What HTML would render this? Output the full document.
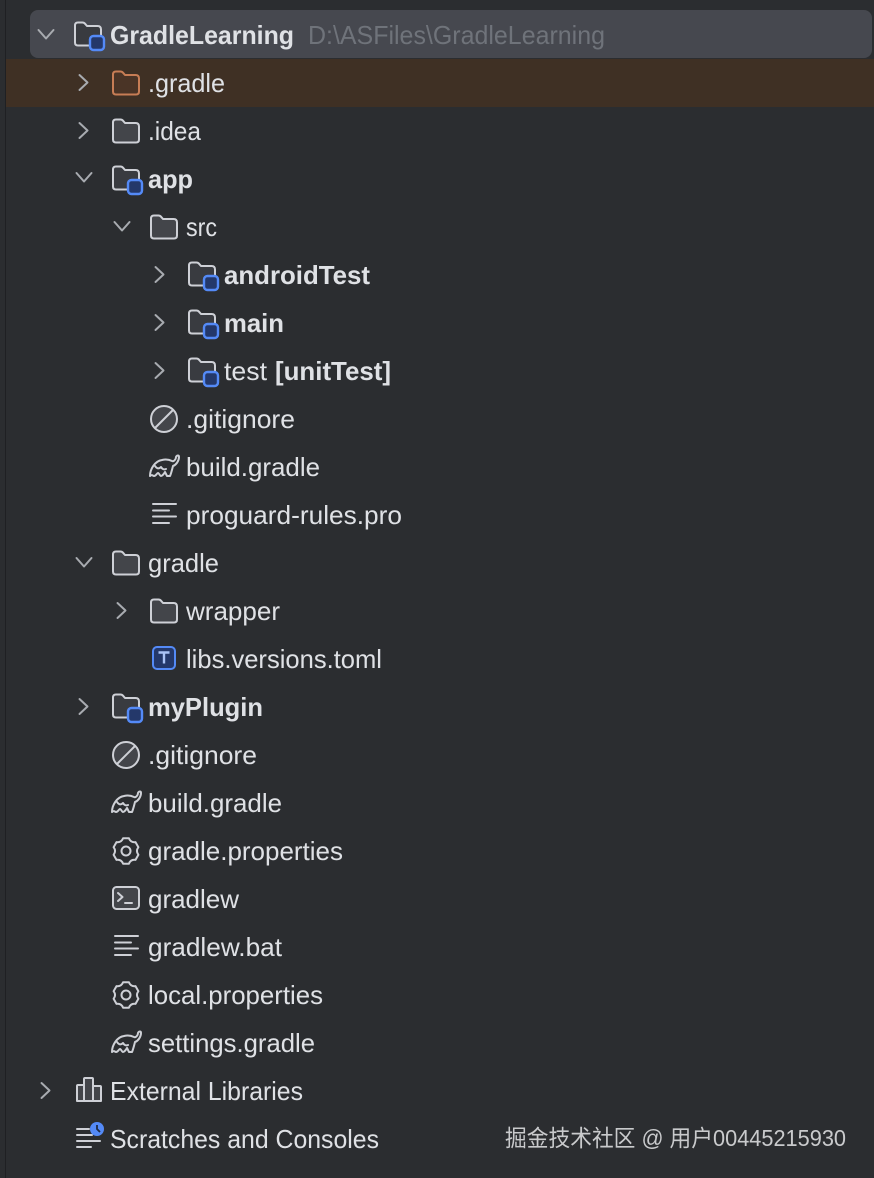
<!DOCTYPE html>
<html><head><meta charset="utf-8"><style>
html,body{margin:0;padding:0;background:#2b2d30}
svg{display:block}
text{font-family:"Liberation Sans","Noto Sans CJK SC",sans-serif;font-size:26px;fill:#dfe1e5}
.b{font-weight:bold}
.g{fill:#6f737a}
.w{font-size:23px;fill:#c9cacc}
.s{fill:none;stroke:#ced0d6;stroke-width:2;stroke-linecap:round;stroke-linejoin:round}
.c{fill:none;stroke:#a8abb0;stroke-width:2;stroke-linecap:round;stroke-linejoin:round}
</style></head><body>
<svg xmlns="http://www.w3.org/2000/svg" width="874" height="1178" viewBox="0 0 874 1178">
<defs>
<g id="r"><path class="c" d="M-4.500 -7.500L3.500 0L-4.500 7.500"/></g>
<g id="d"><path class="c" d="M-7.500 -4L0 4.500L7.500 -4"/></g>
<path id="fp" d="M-13 -8.500q0-3 3-3h4.500q1.500 0 2.500 1.200l2 2.300h10.500q3.500 0 3.500 3.500v13q0 3-3 3h-20q-3 0-3-3z"/>
<g id="f"><use href="#fp" fill="#43454a" stroke="#ced0d6" stroke-width="2" stroke-linejoin="round"/></g>
<g id="fm"><use href="#fp" fill="#393b40" stroke="#ced0d6" stroke-width="2" stroke-linejoin="round"/><rect x="2" y="2" width="14" height="14" rx="3.500" fill="#24386a" stroke="#548af7" stroke-width="2.400"/></g>
<g id="no"><circle r="13" fill="#43454a" stroke="#ced0d6" stroke-width="2"/><path class="s" d="M-8.500 8.500L8.500 -8.500"/></g>
<g id="el"><path class="s" d="M-14 10C-14 3-9-5-2-6C2-7 6-6 8-5C10-4 12-7 12-9C13-11 15-11 15-9C15-5 12-1 9 0C8 4 7 8 6 10L3 10L1 6C0 8-2 10-3 10C-4 10-5 7-6 7C-7 7-8 10-10 10C-11 10-12 8-14 10Z"/><path class="s" d="M-9 0C-7 3-5 3-3 1C-2 3 0 4 2 3"/></g>
<g id="ln"><path class="s" d="M-11 -10H12M-11 -3.500H5M-11 2.500H12M-11 9H5"/></g>
<g id="gr"><path class="s" d="M-2.900 -12.700L2.900 -12.700Q4.750 -8.200 9.500 -8.900L12.400 -3.800Q9.500 0 12.400 3.800L9.500 8.900Q4.750 8.200 2.900 12.700L-2.900 12.700Q-4.750 8.200 -9.500 8.900L-12.400 3.800Q-9.500 0 -12.400 -3.800L-9.500 -8.900Q-4.750 -8.200 -2.900 -12.700Z"/><circle r="4.500" class="s"/></g>
</defs>

<rect width="874" height="1178" fill="#2b2d30"/>
<rect x="5" y="0" width="1" height="1178" fill="#1f2023"/>
<rect x="30" y="10" width="842" height="48" rx="8" fill="#46484f"/>
<rect x="6" y="59" width="868" height="48" fill="#3f3024"/>

<!-- chevrons -->
<use href="#d" x="46" y="34"/>
<use href="#r" x="84" y="82.500"/>
<use href="#r" x="84" y="130.500"/>
<use href="#d" x="84" y="177"/>
<use href="#d" x="122" y="226"/>
<use href="#r" x="160" y="274.500"/>
<use href="#r" x="160" y="322.500"/>
<use href="#r" x="160" y="370.500"/>
<use href="#d" x="84" y="562"/>
<use href="#r" x="122" y="610.500"/>
<use href="#r" x="84" y="706.500"/>
<use href="#r" x="46" y="1090.500"/>

<!-- folder icons -->
<use href="#fm" x="88" y="34"/>
<g transform="translate(126,83)"><use href="#fp" fill="#4a3426" stroke="#c77d55" stroke-width="2" stroke-linejoin="round"/></g>
<use href="#f" x="126" y="131"/>
<use href="#fm" x="126" y="178"/>
<use href="#f" x="164" y="227"/>
<use href="#fm" x="202" y="274"/>
<use href="#fm" x="202" y="322"/>
<use href="#fm" x="202" y="370"/>
<use href="#no" x="164" y="419"/>
<use href="#el" x="164" y="466"/>
<use href="#ln" x="164" y="514"/>
<use href="#f" x="126" y="563"/>
<use href="#f" x="164" y="611"/>
<rect x="153" y="647" width="22" height="22" rx="4" fill="#24386a" stroke="#548af7" stroke-width="2"/>
<path d="M158.500 652.500h11M164 652.500v11" fill="none" stroke="#a9c2f5" stroke-width="2.400"/>
<use href="#fm" x="126" y="706"/>
<use href="#no" x="126" y="755"/>
<use href="#el" x="126" y="802"/>
<use href="#gr" x="126" y="851"/>
<rect x="113" y="887" width="26" height="22" rx="3.500" fill="#43454a" stroke="#ced0d6" stroke-width="2"/>
<path class="s" d="M118 893l4.500 4l-4.500 4M125 903h7"/>
<use href="#ln" x="126" y="946"/>
<use href="#gr" x="126" y="995"/>
<use href="#el" x="126" y="1042"/>
<path d="M77 1101v-15q0-1 1-1h6v16zM84 1101v-22q0-1 1-1h7q1 0 1 1v22zM93 1101v-15h7q1 0 1 1v14z" fill="#43454a" stroke="#ced0d6" stroke-width="2" stroke-linejoin="round"/>
<path class="s" d="M77 1129H89M77 1135H92M77 1141H100M77 1147H91"/>
<circle cx="97" cy="1129" r="7" fill="#548af7"/>
<path d="M97 1125v4l3 3" fill="none" stroke="#1e2a44" stroke-width="1.800"/>

<!-- labels -->
<text x="110" y="44" class="b" textLength="184" lengthAdjust="spacingAndGlyphs">GradleLearning</text>
<text x="308" y="44" class="g" textLength="297" lengthAdjust="spacingAndGlyphs">D:\ASFiles\GradleLearning</text>
<text x="148" y="92" textLength="77" lengthAdjust="spacingAndGlyphs">.gradle</text>
<text x="148" y="140" textLength="53" lengthAdjust="spacingAndGlyphs">.idea</text>
<text x="148" y="188" class="b" textLength="45" lengthAdjust="spacingAndGlyphs">app</text>
<text x="186" y="236" textLength="31" lengthAdjust="spacingAndGlyphs">src</text>
<text x="224" y="284" class="b" textLength="146" lengthAdjust="spacingAndGlyphs">androidTest</text>
<text x="224" y="332" class="b" textLength="60" lengthAdjust="spacingAndGlyphs">main</text>
<text x="224" y="380" textLength="43" lengthAdjust="spacingAndGlyphs">test</text>
<text x="275" y="380" class="b" textLength="116" lengthAdjust="spacingAndGlyphs">[unitTest]</text>
<text x="186" y="428" textLength="109" lengthAdjust="spacingAndGlyphs">.gitignore</text>
<text x="186" y="476" textLength="134" lengthAdjust="spacingAndGlyphs">build.gradle</text>
<text x="186" y="524" textLength="216" lengthAdjust="spacingAndGlyphs">proguard-rules.pro</text>
<text x="148" y="572" textLength="71" lengthAdjust="spacingAndGlyphs">gradle</text>
<text x="186" y="620" textLength="94" lengthAdjust="spacingAndGlyphs">wrapper</text>
<text x="186" y="668" textLength="196" lengthAdjust="spacingAndGlyphs">libs.versions.toml</text>
<text x="148" y="716" class="b" textLength="115" lengthAdjust="spacingAndGlyphs">myPlugin</text>
<text x="148" y="764" textLength="109" lengthAdjust="spacingAndGlyphs">.gitignore</text>
<text x="148" y="812" textLength="134" lengthAdjust="spacingAndGlyphs">build.gradle</text>
<text x="148" y="860" textLength="195" lengthAdjust="spacingAndGlyphs">gradle.properties</text>
<text x="148" y="908" textLength="91" lengthAdjust="spacingAndGlyphs">gradlew</text>
<text x="148" y="956" textLength="134" lengthAdjust="spacingAndGlyphs">gradlew.bat</text>
<text x="148" y="1004" textLength="175" lengthAdjust="spacingAndGlyphs">local.properties</text>
<text x="148" y="1052" textLength="167" lengthAdjust="spacingAndGlyphs">settings.gradle</text>
<text x="110" y="1100" textLength="193" lengthAdjust="spacingAndGlyphs">External Libraries</text>
<text x="110" y="1148" textLength="269" lengthAdjust="spacingAndGlyphs">Scratches and Consoles</text>
<text x="505" y="1146" class="w" textLength="341" lengthAdjust="spacingAndGlyphs">掘金技术社区 @ 用户00445215930</text>
</svg>
</body></html>
